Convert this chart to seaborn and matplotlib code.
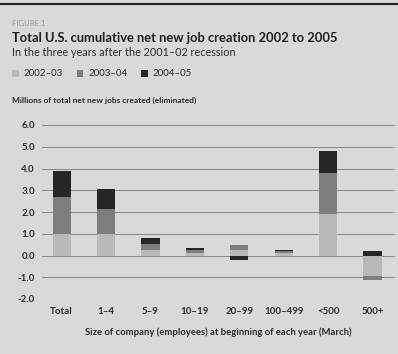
import numpy as np
import matplotlib
matplotlib.use("Agg")
import matplotlib.pyplot as plt
from matplotlib.patches import Patch
from matplotlib.lines import Line2D
import seaborn as sns

# Values (millions of net new jobs)
categories = ["Total", "1–4", "5–9", "10–19", "20–99", "100–499", "<500", "500+"]
series_names = ["2002–03", "2003–04", "2004–05"]
jobs_2002_03 = [1.0, 1.0, 0.25, 0.12, 0.25, 0.12, 1.9, -0.92]
jobs_2003_04 = [1.7, 1.15, 0.3, 0.12, 0.25, 0.1, 1.9, -0.22]
jobs_2004_05 = [1.2, 0.92, 0.25, 0.1, -0.2, 0.03, 1.0, 0.22]
y_ticks = [-2.0, -1.0, 0.0, 1.0, 2.0, 3.0, 4.0, 5.0, 6.0]

colors = ["#b9b9b9", "#7d7d7d", "#262626"]
bg = "#d9d9d9"

sns.set_style("white")
plt.rcParams["font.family"] = ["Lato", "DejaVu Sans"]

fig = plt.figure(figsize=(3.98, 3.54), dpi=100, facecolor=bg)
ax = fig.add_axes([42 / 398, 55 / 354, 353 / 398, 174 / 354])
ax.set_facecolor(bg)

# stacked bars: draw cumulative totals from the top layer down so each
# later (lower) layer covers the part of the bar that belongs to it
series = np.array([jobs_2002_03, jobs_2003_04, jobs_2004_05])
pos_cum = np.cumsum(np.clip(series, 0, None), axis=0)
neg_cum = np.cumsum(np.clip(series, None, 0), axis=0)
for k in [2, 1, 0]:
    for cum in (pos_cum, neg_cum):
        sns.barplot(x=categories, y=cum[k], order=categories, color=colors[k],
                    saturation=1, width=0.414, ax=ax, zorder=3,
                    linewidth=0, edgecolor="none")

ax.set_ylim(-2, 6)
ax.set_xlim(-0.444, 7.507)
ax.set_yticks(y_ticks)
ax.set_yticklabels([f"{t:.1f}" for t in y_ticks])
for t in y_ticks:
    ax.axhline(t, color="#7a7a7a", lw=0.6, zorder=1)
for s in ax.spines.values():
    s.set_visible(False)
ax.tick_params(axis="both", length=0, labelsize=7, labelcolor="#2b2b2b")
ax.tick_params(axis="y", pad=5)
ax.tick_params(axis="x", pad=6)
for lab in ax.get_xticklabels() + ax.get_yticklabels():
    lab.set_fontweight("bold")
ax.set_ylabel("")
ax.set_xlabel("Size of company (employees) at beginning of each year (March)",
              fontsize=6.8, fontweight="bold", color="#2b2b2b", labelpad=8)

# header texts
fig.add_artist(Line2D([0, 1], [1 - 4 / 354] * 2, color="#222222", lw=1.5))
fig.text(12 / 398, 1 - 24 / 354, "FIGURE 1", fontsize=5.5, color="#9a9a9a", va="center")
fig.text(12 / 398, 1 - 38 / 354, "Total U.S. cumulative net new job creation 2002 to 2005",
         fontsize=9.3, fontweight="bold", color="#1e1e1e", va="center")
fig.text(12 / 398, 1 - 52 / 354, "In the three years after the 2001–02 recession",
         fontsize=7.8, color="#2b2b2b", va="center")
fig.text(12 / 398, 1 - 100 / 354, "Millions of total net new jobs created (eliminated)",
         fontsize=6.0, fontweight="bold", color="#2b2b2b", va="center")

handles = [Patch(facecolor=c, edgecolor="none", label=n) for c, n in zip(colors, series_names)]
fig.legend(handles=handles, loc="center left", bbox_to_anchor=(12 / 398, 1 - 74 / 354),
           ncol=3, frameon=False, fontsize=7, handlelength=0.7, handleheight=0.7,
           handletextpad=0.5, columnspacing=1.4, labelcolor="#2b2b2b",
           borderpad=0, borderaxespad=0)

fig.savefig("out.png", dpi=100, facecolor=bg)
